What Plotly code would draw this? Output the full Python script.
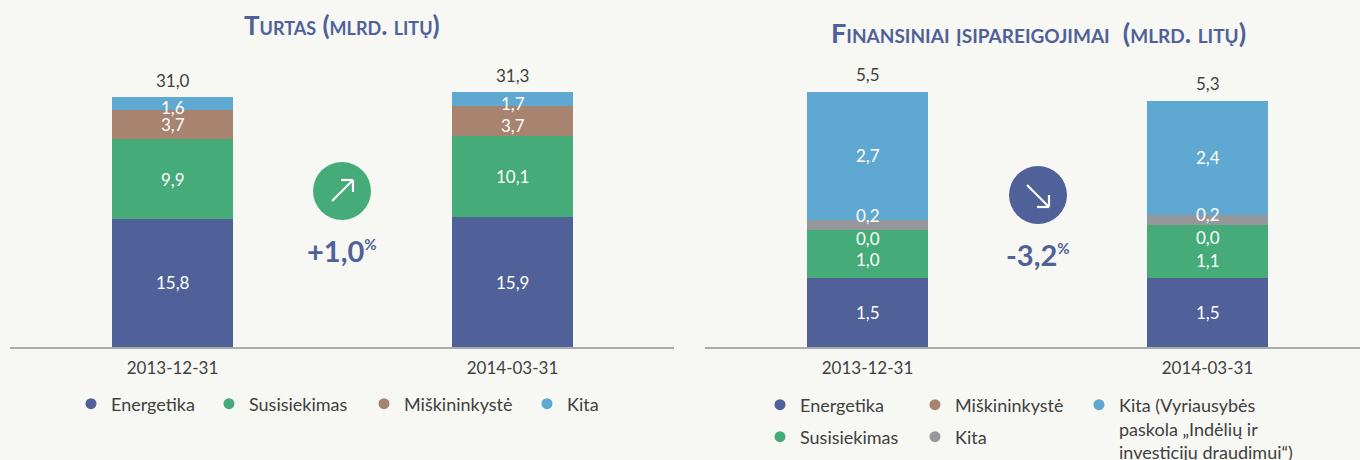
import plotly.graph_objects as go

W, H = 1360, 460
BASE_PX = 347
DATES = ["2013-12-31", "2014-03-31"]

ASSET_NAMES = ["Energetika", "Susisiekimas", "Miškininkystė", "Kita"]
ASSET_ENERGY = [15.8, 16.05]
ASSET_TRANSPORT = [9.88, 10.0]
ASSET_FOREST = [3.58, 3.7]
ASSET_OTHER = [1.6, 1.73]
ASSET_LABELS = [["15,8", "15,9"], ["9,9", "10,1"], ["3,7", "3,7"], ["1,6", "1,7"]]
ASSET_TOTALS = ["31,0", "31,3"]

LIAB_NAMES = ["Energetika", "Susisiekimas", "Miškininkystė", "Kita",
              "Kita (Vyriausybės<br>paskola „Indėlių ir<br>investicijų draudimui“)"]
LIAB_ENERGY = [1.49, 1.49]
LIAB_TRANSPORT = [1.03, 1.14]
LIAB_FOREST = [0.0, 0.0]
LIAB_OTHER = [0.22, 0.22]
LIAB_GOV = [2.76, 2.46]
LIAB_LABELS = [["1,5", "1,5"], ["1,0", "1,1"], ["0,0", "0,0"], ["0,2", "0,2"], ["2,7", "2,4"]]
LIAB_TOTALS = ["5,5", "5,3"]

NAVY, GREEN, BROWN, BLUE, GREY = "#4F6198", "#45AB78", "#A88470", "#5EA8D2", "#96979B"
BG = "#F7F8F3"
INK = "#404040"
FONT = "Lato"
SZ = 17
LEG_SZ = 18

# label nudges in pixels (upwards positive), per series and bar
ASSET_SHIFT = [[1, 0], [0, 0], [0, -4], [-4, -4]]
LIAB_SHIFT = [[0, 0], [-6, -9], [-8, -13], [9, 5], [0, 0]]


def px(x):
    return x / W


def py(y):
    return 1 - y / H


fig = go.Figure()
annotations = []


def panel(axis, names, series, colors, labels, shifts, totals):
    xa, ya = ("x", "y") if axis == 1 else ("x2", "y2")
    for name, vals, col in zip(names, series, colors):
        fig.add_trace(go.Bar(x=DATES, y=vals, name=name, marker=dict(color=col, line=dict(width=0)),
                             width=121 / 340, xaxis=xa, yaxis=ya, showlegend=False))
    for b, date in enumerate(DATES):
        cum = 0
        for s, vals in enumerate(series):
            annotations.append(dict(x=date, y=cum + vals[b] / 2, xref=xa, yref=ya, text=labels[s][b],
                                    showarrow=False, yshift=shifts[s][b], yanchor="middle", xanchor="center",
                                    font=dict(family=FONT, size=SZ, color="white")))
            cum += vals[b]
        annotations.append(dict(x=date, y=cum, xref=xa, yref=ya, text=totals[b], showarrow=False,
                                yshift=17, yanchor="middle", xanchor="center",
                                font=dict(family=FONT, size=SZ, color=INK)))


panel(1, ASSET_NAMES, [ASSET_ENERGY, ASSET_TRANSPORT, ASSET_FOREST, ASSET_OTHER],
      [NAVY, GREEN, BROWN, BLUE], ASSET_LABELS, ASSET_SHIFT, ASSET_TOTALS)
panel(2, LIAB_NAMES, [LIAB_ENERGY, LIAB_TRANSPORT, LIAB_FOREST, LIAB_OTHER, LIAB_GOV],
      [NAVY, GREEN, BROWN, GREY, BLUE], LIAB_LABELS, LIAB_SHIFT, LIAB_TOTALS)

# legends: one native legend per entry so each can sit where the reference has it
LEG_OFFSET = 22
entries = [
    (ASSET_NAMES[0], NAVY, 94, 404), (ASSET_NAMES[1], GREEN, 232, 404),
    (ASSET_NAMES[2], BROWN, 387, 404), (ASSET_NAMES[3], BLUE, 550, 404),
    (LIAB_NAMES[0], NAVY, 783, 405), (LIAB_NAMES[1], GREEN, 783, 437),
    (LIAB_NAMES[2], BROWN, 938, 405), (LIAB_NAMES[3], GREY, 938, 437),
    ("Kita (Vyriausybės", BLUE, 1102, 405),
]
legend_layout = {}
for i, (name, col, lx, ly) in enumerate(entries):
    key = "legend" if i == 0 else f"legend{i + 1}"
    fig.add_trace(go.Scatter(x=[None], y=[None], mode="markers", name=name, legend=key,
                             marker=dict(color=col, size=11), showlegend=True,
                             xaxis="x", yaxis="y"))
    legend_layout[key] = dict(x=px(lx - LEG_OFFSET - 1), y=py(ly), xanchor="left", yanchor="middle",
                              bgcolor="rgba(0,0,0,0)", borderwidth=0,
                              font=dict(family=FONT, size=LEG_SZ, color=INK), itemwidth=30)

# remaining lines of the long right-hand legend entry, running past the page bottom as in the reference
annotations.append(dict(x=px(1117), y=py(416), xref="paper", yref="paper", xanchor="left", yanchor="top",
                        align="left", showarrow=False,
                        text="paskola „Indėlių ir<br>investicijų draudimui“)",
                        font=dict(family=FONT, size=LEG_SZ, color=INK)))

# titles and change badges
for text, cx, cy, size in [("Turtas (mlrd. litų)", 342, 25, 26),
                           ("Finansiniai įsipareigojimai  (mlrd. litų)", 1038, 32, 27)]:
    annotations.append(dict(x=px(cx), y=py(cy), xref="paper", yref="paper", showarrow=False, text=text,
                            xanchor="center", yanchor="middle",
                            font=dict(family=FONT, size=size, color=NAVY, weight="bold", variant="small-caps")))
for text, cx, cy in [("+1,0", 342, 250), ("-3,2", 1038, 254)]:
    annotations.append(dict(x=px(cx), y=py(cy), xref="paper", yref="paper", showarrow=False,
                            xanchor="center", yanchor="middle",
                            text=text + '<sup><span style="font-size:15px">%</span></sup>',
                            font=dict(family=FONT, size=29, color=NAVY, weight="bold")))

shapes = []
for cx, cy, col, a, b, h1, h2 in [
    (342, 191, GREEN, (332, 201), (353, 180), (341, 180), (353, 192)),
    (1038, 195, NAVY, (1027, 185), (1049, 207), (1037, 207), (1049, 195)),
]:
    shapes.append(dict(type="circle", xref="paper", yref="paper", x0=px(cx - 29), x1=px(cx + 29),
                       y0=py(cy + 29), y1=py(cy - 29), fillcolor=col, line=dict(width=0)))
    for p, q in [(a, b), (h1, b), (h2, b)]:
        shapes.append(dict(type="line", xref="paper", yref="paper", x0=px(p[0]), y0=py(p[1]),
                           x1=px(q[0]), y1=py(q[1]), line=dict(color="white", width=2.2)))

axis_common = dict(type="category", showgrid=False, zeroline=False, showline=True, linecolor="#ABABAB",
                   linewidth=2, ticks="outside", ticklen=5, tickcolor="rgba(0,0,0,0)", fixedrange=True,
                   tickfont=dict(family=FONT, size=SZ, color=INK))
yaxis_common = dict(visible=False, domain=[py(BASE_PX), 1], fixedrange=True)

fig.update_layout(
    width=W, height=H, margin=dict(l=0, r=0, t=0, b=0), autosize=False,
    paper_bgcolor=BG, plot_bgcolor=BG, barmode="stack", bargap=0, showlegend=True,
    xaxis=dict(domain=[px(10), px(674)], range=[(10 - 172.5) / 340, (674 - 172.5) / 340], anchor="y",
               **axis_common),
    xaxis2=dict(domain=[px(705), 1], range=[(705 - 867.5) / 340, (1360 - 867.5) / 340], anchor="y2",
                **axis_common),
    yaxis=dict(range=[0, BASE_PX / 8.1], anchor="x", **yaxis_common),
    yaxis2=dict(range=[0, BASE_PX / 46.4], anchor="x2", **yaxis_common),
    annotations=annotations, shapes=shapes,
    **legend_layout,
)
fig.write_html("out.html", config={"displayModeBar": False},
               post_script="document.body.style.margin='0';document.body.style.overflow='hidden';")
